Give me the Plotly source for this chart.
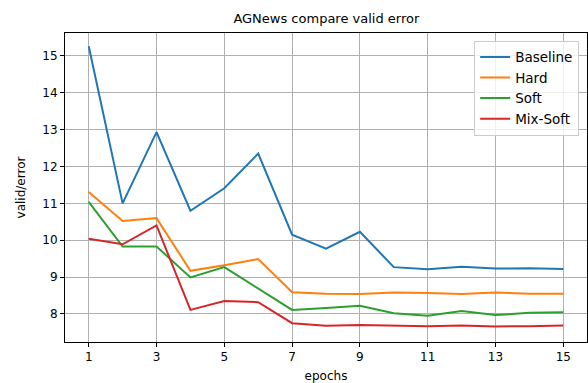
import plotly.graph_objects as go

epochs = list(range(1, 16))
baseline = [15.26, 11.0, 12.93, 10.8, 11.41, 12.35, 10.15, 9.77, 10.23, 9.27, 9.21, 9.28, 9.23, 9.24, 9.22]
hard = [11.31, 10.52, 10.6, 9.17, 9.32, 9.49, 8.59, 8.55, 8.54, 8.58, 8.57, 8.54, 8.58, 8.55, 8.55]
soft = [11.04, 9.83, 9.83, 8.99, 9.27, 8.68, 8.11, 8.16, 8.22, 8.02, 7.95, 8.08, 7.97, 8.03, 8.05]
mix_soft = [10.04, 9.89, 10.4, 8.11, 8.35, 8.32, 7.75, 7.68, 7.70, 7.68, 7.67, 7.69, 7.66, 7.67, 7.69]

series = [("Baseline", baseline, "#1f77b4"), ("Hard", hard, "#ff7f0e"),
          ("Soft", soft, "#2ca02c"), ("Mix-Soft", mix_soft, "#d62728")]
x_ticks = [1, 3, 5, 7, 9, 11, 13, 15]
y_ticks = [8, 9, 10, 11, 12, 13, 14, 15]

fig = go.Figure()
for name, vals, color in series:
    fig.add_trace(go.Scatter(x=epochs, y=vals, mode="lines", name=name,
                             line=dict(color=color, width=2)))

font = "DejaVu Sans"
axis_common = dict(showline=True, linecolor="black", linewidth=1, mirror=True,
                   ticks="outside", ticklen=4, tickcolor="black", automargin=False,
                   showgrid=True, gridcolor="#b0b0b0", gridwidth=1, zeroline=False,
                   tickfont=dict(family=font, size=12, color="black"))
fig.update_layout(
    width=588, height=383,
    margin=dict(l=65, r=1, t=33, b=41, autoexpand=False),
    paper_bgcolor="white", plot_bgcolor="white",
    title=dict(text="AGNews compare valid error", x=0.555, xanchor="center",
               y=0.953, yanchor="middle", font=dict(family=font, size=13, color="black")),
    xaxis=dict(range=[0.3, 15.7], tickvals=x_ticks,
               title=dict(text="epochs", font=dict(family=font, size=12, color="black"), standoff=10),
               **axis_common),
    yaxis=dict(range=[7.24, 15.62], tickvals=y_ticks,
               title=dict(text="valid/error", font=dict(family=font, size=12, color="black"), standoff=14),
               **axis_common),
    legend=dict(x=0.985, y=0.975, xanchor="right", yanchor="top",
                bgcolor="rgba(255,255,255,0.8)", bordercolor="#cccccc", borderwidth=1,
                font=dict(family=font, size=13.5, color="black"), tracegroupgap=0,
                itemwidth=30),
    showlegend=True,
)
fig.write_html("out.html", config={"displayModeBar": False},
               post_script="document.body.style.margin='0';")
